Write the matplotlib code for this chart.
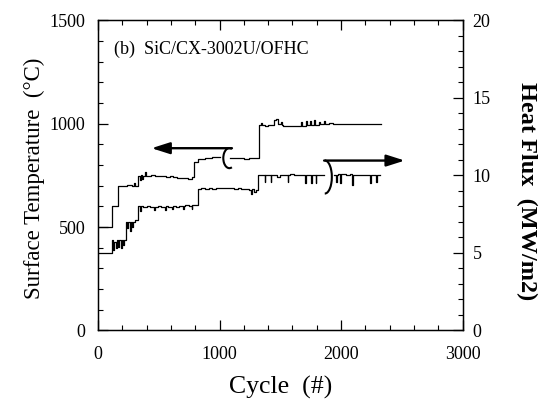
import numpy as np
import matplotlib
matplotlib.use("Agg")
import matplotlib.pyplot as plt
from matplotlib.patches import Arc
from matplotlib.ticker import MultipleLocator

plt.rcParams['font.family'] = ['Liberation Serif', 'DejaVu Serif']

# Surface temperature record (cycle, deg C); NaN marks the break at the loop marker
temp_cycle = [0, 118, 165, 200, 240, 280, 296, 306, 330, 345, 352, 362, 370,
              385, 392, 410, 440, 470, 500, 530, 560, 590, 620, 650, 680,
              710, 740, 770,
              790, 820, 850, 880, 910, 940, 970, 1005,
              1090, 1120, 1160, 1200, 1240, 1280,
              1325, 1345, 1352, 1370, 1400, 1430, 1445, 1465, 1480, 1505,
              1512, 1520, 1550, 1580, 1610, 1640, 1670, 1676, 1690, 1710,
              1716, 1745, 1751, 1780, 1786, 1820, 1826, 1840, 1860, 1866,
              1880, 1900, 1930, 1960, 1990, 2020, 2060, 2100, 2140, 2180,
              2220, 2260, 2300, 2331]
temp_value = [500, 600, 698, 700, 702, 698, 712, 700, 745, 725, 752, 730, 748,
              765, 745, 748, 752, 748, 745, 747, 743, 746, 742, 738, 735,
              738, 733, 740,
              815, 828, 830, 833, 835, 838, 840, np.nan,
              832, 833, 832, 831, 833, 832,
              995, 1005, 992, 990, 995, 993, 1015, 1022, 1000, 1010,
              995, 990, 988, 990, 987, 990, 1010, 990, 990, 1014,
              992, 1012, 994, 1015, 995, 1010, 996, 998, 1012, 998,
              998, 1002, 998, 1000, 997, 999, 996, 998, 997, 999,
              996, 998, 997, 997]

# Heat flux record (cycle, MW/m2)
flux_cycle = [0, 118, 128, 136, 146, 154, 166, 176, 190, 198, 210, 218,
              228, 240, 248, 262, 270, 284, 292, 305,
              326, 345, 352, 370, 400, 430, 460, 467, 490, 520, 550, 557,
              580, 610, 617, 640, 670, 700, 706, 720, 745, 770, 776, 790,
              825, 850, 880, 910, 940, 970, 1000, 1030, 1060, 1090, 1120,
              1150, 1180, 1210, 1240, 1260, 1268, 1280, 1300,
              1315, 1340, 1370, 1377, 1390, 1420, 1427, 1440, 1470, 1500,
              1530, 1560, 1567, 1580, 1610, 1640, 1670, 1700, 1707, 1750,
              1757, 1790, 1797, 1810, 1830, 1860,
              1945, 1960, 1967, 1975, 1990, 1997, 2005, 2040, 2070, 2090,
              2097, 2150, 2200, 2240, 2247, 2290, 2297, 2317]
flux_value = [5.0, 5.8, 5.2, 5.7, 5.3, 5.8, 5.4, 5.8, 5.3, 5.8, 5.5, 5.8,
              7.0, 6.6, 7.0, 6.4, 7.0, 6.7, 7.0, 7.1,
              8.0, 7.7, 8.0, 7.95, 8.0, 7.95, 7.75, 7.95, 8.0, 7.95, 7.75, 8.0,
              7.95, 7.8, 8.0, 7.95, 8.0, 7.8, 8.05, 8.1, 8.0, 7.8, 8.1, 8.1,
              9.1, 9.2, 9.1, 9.15, 9.1, 9.2, 9.15, 9.2, 9.15, 9.2, 9.1,
              9.15, 9.1, 9.1, 9.05, 8.8, 9.1, 8.9, 9.05,
              10.0, 10.05, 9.6, 10.0, 10.0, 9.6, 10.0, 10.0, 9.9, 10.05,
              10.0, 9.6, 10.05, 10.1, 10.0, 10.05, 10.0, 9.5, 10.05, 9.5,
              10.05, 9.5, 10.05, 10.0, 10.05, np.nan,
              10.0, 9.6, 10.05, 10.1, 9.5, 10.1, 10.1, 10.05, 10.1, 9.4,
              10.05, 10.0, 10.05, 9.5, 10.0, 9.6, 10.0, 10.0]

fig = plt.figure(figsize=(5.47, 4.03), dpi=100)
ax = fig.add_axes([0.179, 0.180, 0.667, 0.770])
ax2 = ax.twinx()

ax.plot(temp_cycle, temp_value, color='black', lw=0.9, drawstyle='steps-post')
ax2.plot(flux_cycle, flux_value, color='black', lw=0.9, drawstyle='steps-post')

ax.set_xlim(0, 3000)
ax.set_ylim(0, 1500)
ax2.set_ylim(0, 20)

# Loop markers tying each trace to its axis, with arrows
ax.add_patch(Arc((1081, 833), width=100, height=97, theta1=65, theta2=295,
                 color='black', lw=1.5))
ax.annotate('', xy=(441, 881), xytext=(1102, 881),
            arrowprops=dict(arrowstyle='-|>,head_length=1.1,head_width=0.35',
                            color='black', lw=1.7, shrinkA=0, shrinkB=0))
ax2.add_patch(Arc((1866, 9.89), width=115, height=2.13, theta1=-125, theta2=95,
                  color='black', lw=1.5))
ax2.annotate('', xy=(2523, 10.95), xytext=(1860, 10.95),
             arrowprops=dict(arrowstyle='-|>,head_length=1.1,head_width=0.35',
                             color='black', lw=1.7, shrinkA=0, shrinkB=0))

ax.text(0.045, 0.905, '(b)  SiC/CX-3002U/OFHC', transform=ax.transAxes,
        fontsize=13, ha='left', va='center')

ax.xaxis.set_major_locator(MultipleLocator(1000))
ax.xaxis.set_minor_locator(MultipleLocator(200))
ax.yaxis.set_major_locator(MultipleLocator(500))
ax.yaxis.set_minor_locator(MultipleLocator(100))
ax2.yaxis.set_major_locator(MultipleLocator(5))
ax2.yaxis.set_minor_locator(MultipleLocator(1))

ax.tick_params(axis='x', which='both', direction='in', top=True, bottom=True)
ax.tick_params(axis='y', which='both', direction='in', left=True, right=False)
ax.tick_params(which='major', length=7, width=0.9, labelsize=13)
ax.tick_params(which='minor', length=3.5, width=0.8)
ax.tick_params(axis='x', which='major', pad=11)
ax.tick_params(axis='y', which='major', pad=9)
ax2.tick_params(axis='y', which='both', direction='in', right=True)
ax2.tick_params(which='major', length=7, width=0.9, labelsize=13, pad=7)
ax2.tick_params(which='minor', length=3.5, width=0.8)

for sp in ax.spines.values():
    sp.set_linewidth(1.0)

ax.set_xlabel('Cycle  (#)', fontsize=18.5)
ax.xaxis.set_label_coords(0.5, -0.145)
ax.set_ylabel('Surface Temperature  (\u00b0C)', fontsize=16.5)
ax.yaxis.set_label_coords(-0.145, 0.49)
ax2.set_ylabel('Heat Flux  (MW/m2)', fontsize=17.5, fontweight='bold',
               rotation=270, va='center')
ax2.yaxis.set_label_coords(1.175, 0.45)

fig.savefig('out.png', dpi=100)
